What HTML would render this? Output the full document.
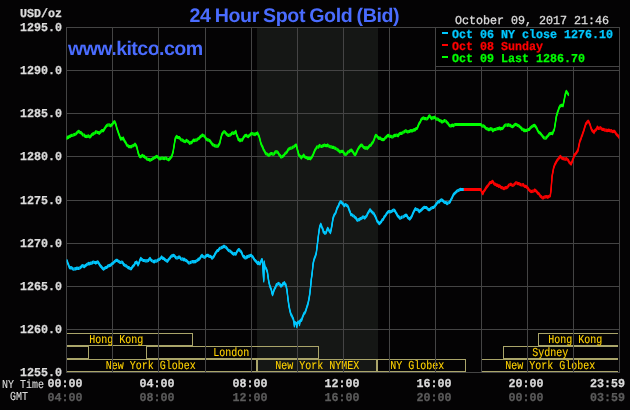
<!DOCTYPE html>
<html><head><meta charset="utf-8"><title>24 Hour Spot Gold (Bid)</title>
<style>html,body{margin:0;padding:0;background:#040304;overflow:hidden}svg{display:block;will-change:transform;text-rendering:geometricPrecision}</style>
</head><body>
<svg width="630" height="410" viewBox="0 0 630 410">
<rect width="630" height="410" fill="#040304"/>
<defs><filter id="idf" x="0" y="0" width="630" height="410" filterUnits="userSpaceOnUse"><feOffset dx="0" dy="0"/></filter></defs>
<g filter="url(#idf)">
<rect x="257" y="27" width="121" height="346" fill="#151715"/>
<path d="M66.5 333.5H192.5V345.5H66.5ZM66.5 346.5H88.5V358.5H66.5ZM146.5 346.5H318.5V358.5H146.5ZM66.5 359.5H256.5V371.5H66.5ZM257.5 359.5H376.5V371.5H257.5ZM377.5 359.5H465.5V371.5H377.5ZM618 359.5H481.5V371.5H618M618 346.5H503.5V358.5H618M618 333.5H538.5V345.5H618" fill="none" stroke="#aaa56a" stroke-width="1" shape-rendering="crispEdges"/>
<text x="89.2" y="343" font-family="Liberation Mono, monospace" font-weight="normal" font-size="12.15" fill="#ffd200" stroke="#ffd200" stroke-width="0.12" textLength="54" lengthAdjust="spacingAndGlyphs" xml:space="preserve">Hong Kong</text>
<text x="213.2" y="356" font-family="Liberation Mono, monospace" font-weight="normal" font-size="12.15" fill="#ffd200" stroke="#ffd200" stroke-width="0.12" textLength="36" lengthAdjust="spacingAndGlyphs" xml:space="preserve">London</text>
<text x="105.7" y="369" font-family="Liberation Mono, monospace" font-weight="normal" font-size="12.15" fill="#ffd200" stroke="#ffd200" stroke-width="0.12" textLength="90" lengthAdjust="spacingAndGlyphs" xml:space="preserve">New York Globex</text>
<text x="275.2" y="369" font-family="Liberation Mono, monospace" font-weight="normal" font-size="12.15" fill="#ffd200" stroke="#ffd200" stroke-width="0.12" textLength="84" lengthAdjust="spacingAndGlyphs" xml:space="preserve">New York NYMEX</text>
<text x="390.2" y="369" font-family="Liberation Mono, monospace" font-weight="normal" font-size="12.15" fill="#ffd200" stroke="#ffd200" stroke-width="0.12" textLength="54" lengthAdjust="spacingAndGlyphs" xml:space="preserve">NY Globex</text>
<text x="505.2" y="369" font-family="Liberation Mono, monospace" font-weight="normal" font-size="12.15" fill="#ffd200" stroke="#ffd200" stroke-width="0.12" textLength="90" lengthAdjust="spacingAndGlyphs" xml:space="preserve">New York Globex</text>
<text x="532.2" y="356" font-family="Liberation Mono, monospace" font-weight="normal" font-size="12.15" fill="#ffd200" stroke="#ffd200" stroke-width="0.12" textLength="36" lengthAdjust="spacingAndGlyphs" xml:space="preserve">Sydney</text>
<text x="548.2" y="343" font-family="Liberation Mono, monospace" font-weight="normal" font-size="12.15" fill="#ffd200" stroke="#ffd200" stroke-width="0.12" textLength="54" lengthAdjust="spacingAndGlyphs" xml:space="preserve">Hong Kong</text>
<text x="68" y="55" font-family="Liberation Sans, sans-serif" font-weight="bold" font-size="19.6" letter-spacing="-0.57" fill="#4a6cff">www.kitco.com</text>
<path d="M66.5 27V373M112.5 27V373M158.5 27V373M205.5 27V373M251.5 27V373M297.5 27V373M343.5 27V373M389.5 27V373M435.5 27V373M481.5 27V373M527.5 27V373M573.5 27V373M619.5 27V373M66 27.5H620M66 70.5H620M66 113.5H620M66 156.5H620M66 200.5H620M66 243.5H620M66 286.5H620M66 329.5H620M66 372.5H620" stroke="#444444" stroke-width="1" fill="none" shape-rendering="crispEdges"/>
<g fill="none" stroke="#00c8ff" stroke-width="1.2" stroke-linejoin="round" stroke-linecap="butt"><path id="p00c8ff" d="M67.0 260.3 L68.0 263.8 L68.3 264.2 L69.3 267.1 L70.0 268.0 L71.0 267.6 L72.0 268.0 L72.5 268.7 L73.5 269.1 L74.5 269.0 L75.0 268.7 L76.0 268.8 L77.0 268.1 L77.5 268.3 L78.5 268.3 L79.7 268.0 L80.7 267.2 L81.7 266.3 L82.0 265.8 L83.0 265.7 L84.2 266.7 L85.2 265.8 L86.3 265.0 L87.3 264.1 L88.3 263.9 L88.7 263.3 L89.7 263.9 L90.8 263.0 L91.8 263.2 L92.8 262.3 L93.3 262.0 L94.3 262.3 L95.3 262.5 L95.8 263.0 L96.8 262.2 L97.8 261.9 L98.3 262.5 L99.3 264.1 L100.3 265.8 L101.3 266.7 L102.5 268.3 L103.7 269.2 L104.7 268.2 L105.8 267.5 L106.8 267.4 L107.8 266.2 L108.3 265.8 L109.3 265.7 L110.3 265.1 L110.8 265.3 L111.8 263.7 L113.0 263.3 L114.0 262.1 L115.0 261.3 L116.0 260.3 L117.0 260.3 L118.0 261.0 L119.2 261.7 L120.2 262.5 L121.2 262.2 L121.7 262.0 L122.7 262.6 L123.7 264.7 L124.2 264.7 L125.2 265.6 L126.3 265.8 L127.3 266.9 L128.3 267.8 L128.7 267.5 L129.7 268.3 L130.7 268.8 L131.3 268.7 L132.3 267.0 L133.3 265.8 L134.3 264.8 L135.3 262.5 L136.3 262.8 L136.7 262.0 L137.7 263.8 L138.0 265.0 L139.0 262.9 L139.7 260.8 L140.8 258.3 L141.8 259.6 L143.0 260.3 L144.0 260.5 L145.0 260.8 L145.3 260.8 L146.3 260.8 L147.5 260.8 L148.5 260.4 L149.5 258.8 L150.0 258.3 L151.0 260.0 L152.0 260.8 L153.0 261.2 L154.2 262.0 L155.0 260.8 L156.0 261.2 L157.0 261.0 L157.5 260.3 L158.5 259.7 L159.7 259.2 L160.7 258.2 L161.7 257.0 L162.7 258.3 L163.7 258.3 L164.7 259.6 L165.8 260.3 L166.8 260.9 L167.5 261.3 L168.5 259.6 L169.7 258.3 L170.7 256.8 L171.7 255.8 L172.7 255.8 L173.3 255.3 L174.3 255.7 L175.3 257.0 L176.3 258.0 L177.5 258.0 L178.5 257.2 L179.7 257.0 L180.7 258.7 L181.7 259.2 L182.7 258.9 L183.7 259.8 L184.2 259.2 L185.2 260.1 L186.2 260.5 L186.7 260.8 L187.7 261.9 L188.7 263.0 L189.7 262.8 L190.7 262.4 L191.3 262.0 L192.3 261.7 L193.3 261.6 L193.7 262.0 L194.7 261.6 L195.7 261.7 L196.3 260.8 L197.3 260.5 L198.3 259.2 L198.7 259.7 L199.7 258.7 L200.8 256.7 L202.0 255.3 L203.0 256.6 L203.7 257.0 L204.7 257.3 L205.8 256.3 L206.8 255.4 L208.0 255.3 L209.0 256.2 L210.0 256.3 L211.0 256.7 L212.0 258.3 L213.0 257.4 L214.2 255.8 L215.2 253.7 L216.3 252.0 L217.3 250.6 L218.3 250.5 L218.7 249.7 L219.7 248.3 L220.8 248.0 L221.8 247.4 L222.8 247.2 L223.3 246.3 L224.3 246.3 L225.3 247.0 L226.3 247.6 L227.5 249.2 L228.5 250.5 L229.7 250.8 L230.7 251.6 L231.7 252.5 L232.7 253.6 L233.7 254.2 L234.7 253.5 L235.8 254.2 L236.8 252.0 L237.5 250.8 L238.5 249.7 L239.2 249.7 L240.2 250.9 L240.8 251.3 L241.8 252.9 L242.5 255.0 L243.5 256.8 L244.5 256.7 L245.0 258.0 L246.0 257.9 L247.0 256.5 L247.5 257.0 L248.5 256.1 L249.5 256.2 L250.0 255.5 L251.0 255.3 L251.9 256.1 L252.9 257.0 L253.8 258.7 L254.8 260.1 L255.7 261.0 L256.7 262.1 L257.6 263.5 L258.6 262.5 L259.1 263.7 L260.1 263.8 L260.8 261.8 L261.8 259.5 L262.3 259.7 L263.1 270.1 L263.7 280.9 L264.2 261.8 L265.0 267.6 L266.0 268.2 L267.0 270.8 L267.4 272.0 L268.4 279.3 L268.9 282.2 L269.9 286.3 L270.4 287.4 L271.4 289.9 L271.8 292.5 L272.6 294.7 L273.7 291.0 L274.7 288.5 L275.5 287.4 L276.5 284.5 L277.2 284.4 L278.4 283.4 L279.4 284.0 L279.9 284.4 L280.9 286.1 L281.3 285.9 L282.3 285.0 L282.8 283.7 L283.8 283.9 L284.3 282.5 L285.3 284.5 L285.7 284.4 L286.9 289.6 L287.9 298.3 L288.9 305.6 L290.1 311.5 L291.1 314.9 L291.6 315.1 L292.6 317.7 L293.0 318.1 L293.4 319.5 L294.0 322.0 L294.4 326.0 L294.9 322.5 L295.7 323.2 L296.4 323.6 L296.8 326.6 L297.3 323.0 L298.3 322.2 L299.2 321.8 L299.5 324.6 L300.0 321.2 L301.0 320.0 L301.5 320.3 L302.5 317.2 L303.0 315.9 L304.0 313.5 L304.7 313.0 L305.7 310.9 L306.2 309.3 L307.2 305.8 L307.7 304.9 L308.8 299.8 L309.8 293.9 L310.6 286.6 L311.3 279.3 L312.3 272.0 L313.1 263.7 L314.1 259.3 L315.4 256.1 L316.3 253.0 L317.5 243.3 L318.7 233.3 L319.7 226.7 L320.8 224.2 L322.0 227.5 L323.0 229.6 L323.3 231.7 L324.3 232.5 L325.0 233.3 L326.0 232.8 L326.7 230.8 L327.7 228.3 L328.0 228.7 L329.2 230.8 L330.2 232.2 L330.5 232.5 L331.7 226.7 L332.7 220.3 L333.0 218.3 L334.2 215.0 L335.2 213.5 L335.8 212.5 L336.8 209.0 L337.5 207.5 L338.5 205.8 L339.2 203.7 L340.2 202.1 L340.8 201.7 L341.8 202.8 L342.5 203.3 L343.5 204.7 L344.2 205.8 L345.2 204.5 L345.8 204.7 L346.8 205.4 L347.5 205.8 L348.5 207.8 L349.2 210.0 L350.2 212.2 L350.8 214.7 L351.8 214.6 L353.0 215.8 L354.0 216.2 L355.0 217.5 L356.0 218.1 L357.0 220.0 L357.5 220.3 L358.5 219.7 L359.5 219.7 L360.0 218.7 L361.0 218.6 L362.0 218.0 L362.5 217.0 L363.5 217.1 L364.7 218.0 L365.7 216.8 L366.7 215.8 L367.7 213.5 L368.3 212.5 L369.3 210.9 L370.0 209.7 L371.0 211.0 L371.7 211.7 L372.7 212.9 L373.7 213.3 L374.7 215.4 L375.3 216.3 L376.3 218.7 L377.0 220.8 L378.0 222.0 L379.2 223.7 L380.2 222.8 L381.3 221.7 L382.3 219.7 L383.3 219.2 L384.3 216.8 L385.3 215.8 L386.3 214.2 L387.5 212.5 L388.5 211.6 L389.7 211.7 L390.7 211.8 L391.7 211.3 L392.7 210.6 L393.7 210.0 L394.2 210.3 L395.2 211.2 L395.8 212.5 L396.8 214.1 L397.5 215.8 L398.5 216.4 L399.5 217.9 L400.0 218.3 L401.0 217.8 L402.0 217.0 L402.5 217.0 L403.5 216.7 L404.7 215.8 L405.7 215.2 L406.7 215.3 L407.7 217.4 L408.7 218.3 L409.7 219.0 L410.3 218.3 L411.3 217.2 L412.0 215.8 L413.0 213.2 L413.7 211.7 L414.7 209.9 L415.3 208.7 L416.3 209.2 L417.5 209.7 L418.5 210.2 L419.2 211.7 L420.2 210.8 L421.3 210.0 L422.3 209.0 L423.3 208.0 L424.3 207.3 L425.3 207.5 L426.3 207.5 L427.5 208.7 L428.5 209.6 L429.7 209.7 L430.7 208.6 L431.7 208.0 L432.7 207.5 L433.7 207.5 L434.2 206.7 L435.2 205.7 L436.3 204.2 L437.3 202.6 L438.3 201.7 L439.3 201.8 L440.3 200.4 L440.8 200.3 L441.8 199.9 L443.0 200.8 L444.0 201.9 L445.0 202.5 L446.0 202.5 L447.0 203.7 L448.0 202.9 L449.2 202.5 L450.2 201.5 L450.8 200.0 L451.8 198.2 L452.5 196.7 L453.5 194.5 L454.7 193.3 L455.7 192.3 L456.7 191.3 L457.7 190.7 L458.7 190.2 L459.2 190.0 L460.2 189.4 L461.3 189.5 L462.3 189.5 L463.3 189.5 L464.0 189.5"/><use href="#p00c8ff" y="-1"/><use href="#p00c8ff" y="1"/></g>
<g fill="none" stroke="#ff0000" stroke-width="1.2" stroke-linejoin="round" stroke-linecap="butt"><path id="pff0000" d="M463.7 189.5 L464.7 189.5 L465.7 189.5 L466.7 189.5 L467.7 189.5 L468.7 189.5 L469.7 189.5 L470.7 189.5 L471.7 189.5 L472.7 189.5 L473.7 189.5 L474.7 189.5 L475.7 189.5 L476.7 189.5 L477.7 189.5 L478.7 189.5 L479.7 189.5 L480.8 189.5 L481.7 191.7 L482.8 193.7 L483.8 191.2 L484.2 190.8 L485.2 189.4 L486.2 187.6 L486.7 187.0 L487.7 185.8 L488.7 184.5 L489.2 183.7 L490.2 182.5 L491.3 182.5 L492.3 181.3 L493.0 181.7 L494.0 183.6 L494.7 184.2 L495.7 184.4 L496.7 185.3 L497.7 185.2 L498.7 186.4 L499.2 185.8 L500.2 186.5 L501.2 187.6 L501.7 187.5 L502.7 187.9 L503.7 188.6 L504.2 188.7 L505.2 187.7 L506.2 187.9 L506.7 187.5 L507.7 186.9 L508.7 185.3 L509.7 184.8 L510.8 184.2 L511.8 185.0 L513.0 185.3 L514.0 184.7 L515.0 183.7 L516.0 182.7 L517.0 183.0 L518.0 183.7 L519.2 183.7 L520.2 184.4 L521.3 185.0 L522.3 184.9 L523.3 184.6 L523.7 185.3 L524.7 186.3 L525.8 186.3 L526.8 187.2 L528.0 188.3 L529.0 189.9 L530.0 190.8 L531.0 191.6 L532.0 191.3 L533.0 191.1 L534.0 190.9 L534.7 190.0 L535.7 190.7 L536.7 191.7 L537.7 193.1 L538.7 193.6 L539.2 194.2 L540.2 195.9 L541.3 196.7 L542.3 197.9 L543.3 198.0 L544.3 197.0 L545.3 196.7 L545.8 197.0 L546.8 196.5 L547.8 197.4 L548.3 196.7 L549.3 196.2 L550.3 195.8 L551.2 188.3 L552.0 176.7 L553.0 171.3 L553.6 168.0 L554.6 165.1 L555.0 164.3 L556.0 162.4 L556.9 160.7 L557.9 159.3 L558.6 158.6 L559.6 157.1 L560.3 156.4 L561.3 157.5 L562.1 158.3 L563.1 158.7 L564.3 158.9 L565.3 159.3 L566.4 158.6 L567.4 159.7 L568.3 160.3 L569.3 162.4 L570.0 162.9 L571.1 164.0 L572.1 161.7 L572.6 160.0 L573.6 157.8 L574.3 155.0 L575.3 154.2 L576.4 152.9 L577.4 150.9 L577.9 150.7 L578.9 145.7 L580.0 140.7 L581.0 138.7 L581.4 137.1 L582.4 134.8 L582.9 132.9 L583.9 130.4 L584.3 128.6 L585.3 125.5 L585.7 124.0 L586.7 123.0 L587.1 122.1 L588.1 121.2 L588.6 121.4 L589.6 123.9 L590.0 124.3 L591.1 128.3 L592.1 130.4 L592.6 131.1 L593.6 131.8 L594.0 132.6 L595.0 130.5 L595.7 130.0 L596.7 128.8 L597.4 127.1 L598.4 128.4 L599.3 128.3 L600.3 127.7 L601.1 128.3 L602.1 129.3 L602.9 129.3 L603.9 129.6 L605.0 130.3 L606.0 130.0 L607.1 130.7 L608.1 130.2 L609.3 130.3 L610.3 130.9 L611.4 130.7 L612.4 131.6 L613.6 131.4 L614.6 131.4 L615.4 132.6 L616.4 134.1 L617.1 135.0 L618.1 135.8 L618.9 137.4"/><use href="#pff0000" y="-1"/><use href="#pff0000" y="1"/></g>
<g fill="none" stroke="#00ff00" stroke-width="1.2" stroke-linejoin="round" stroke-linecap="butt"><path id="p00ff00" d="M66.7 138.7 L67.7 137.2 L68.7 137.3 L69.2 136.3 L70.2 136.4 L71.2 135.3 L71.7 135.5 L72.7 135.2 L73.7 134.8 L74.2 134.7 L75.2 134.2 L76.2 133.7 L76.7 133.0 L77.7 131.9 L78.7 131.3 L79.2 131.7 L80.2 132.6 L80.8 132.5 L81.8 133.4 L82.8 134.9 L83.3 135.0 L84.3 135.1 L85.0 136.3 L86.0 136.3 L87.0 136.6 L87.5 136.3 L88.5 135.9 L89.5 136.9 L90.5 136.7 L90.8 136.2 L91.8 134.7 L92.8 133.9 L93.3 134.2 L94.3 133.2 L95.3 132.8 L95.8 131.7 L96.8 132.0 L97.5 132.5 L98.5 132.6 L99.2 133.3 L100.2 132.2 L100.8 131.7 L101.8 130.7 L102.8 130.6 L103.3 130.8 L104.3 129.1 L105.3 127.5 L105.8 126.7 L106.8 125.6 L107.8 125.0 L108.3 125.0 L109.3 124.9 L110.3 125.6 L110.8 125.8 L111.8 124.5 L112.5 124.2 L113.5 122.3 L114.7 121.7 L115.8 124.2 L116.8 128.1 L117.5 130.0 L118.5 133.1 L119.2 135.0 L120.2 137.7 L120.8 139.2 L121.8 138.3 L122.8 138.9 L123.3 138.0 L124.3 140.7 L125.0 141.7 L126.0 143.1 L126.7 145.0 L127.7 145.4 L128.7 146.6 L129.2 146.7 L130.2 146.7 L131.2 146.8 L132.2 145.8 L132.5 145.8 L133.5 145.6 L134.5 144.7 L135.0 144.2 L136.0 145.4 L136.7 146.7 L137.7 150.8 L138.3 153.3 L139.3 155.9 L140.0 156.7 L141.0 156.6 L142.0 155.6 L142.5 155.3 L143.5 156.3 L144.5 156.4 L145.0 157.5 L146.0 157.8 L147.0 159.2 L147.5 159.2 L148.5 159.5 L149.5 159.6 L150.0 160.3 L151.0 159.7 L152.0 159.3 L152.5 158.7 L153.5 158.4 L154.5 157.6 L155.0 157.5 L156.0 156.8 L157.0 156.3 L158.0 157.4 L159.2 158.7 L160.2 158.8 L161.2 158.2 L161.7 158.0 L162.7 158.1 L163.7 158.5 L164.2 158.7 L165.2 158.1 L166.2 158.2 L166.7 158.8 L167.7 159.3 L168.7 159.8 L169.2 159.2 L170.2 158.3 L171.2 157.0 L171.7 156.7 L172.7 153.1 L173.0 152.5 L174.2 145.0 L175.3 138.3 L176.3 136.8 L176.7 136.3 L177.7 137.5 L178.7 137.6 L179.2 137.5 L180.2 138.6 L181.2 140.0 L181.7 140.0 L182.7 140.2 L183.7 141.1 L184.2 141.3 L185.2 141.6 L186.2 140.6 L186.7 140.3 L187.7 141.3 L188.7 142.0 L189.7 143.3 L190.7 142.7 L191.7 142.6 L192.5 141.3 L193.5 140.1 L194.5 140.7 L195.0 140.0 L196.0 140.1 L197.0 139.9 L197.5 139.2 L198.5 138.6 L199.5 137.9 L200.0 137.0 L201.0 136.2 L202.0 135.5 L202.5 135.0 L203.5 135.7 L204.5 136.0 L205.0 137.0 L206.0 138.7 L207.0 139.5 L207.5 140.0 L208.5 139.9 L209.5 140.7 L210.0 140.8 L211.0 142.3 L212.0 143.7 L212.5 144.7 L213.5 144.9 L214.5 145.7 L215.0 145.8 L216.0 146.1 L217.0 146.2 L218.0 146.2 L219.0 144.4 L219.7 143.3 L220.8 138.3 L221.8 134.7 L222.5 133.3 L223.5 132.0 L224.2 131.7 L225.2 132.2 L226.2 133.8 L226.7 134.2 L227.7 135.1 L228.7 135.5 L229.2 135.3 L230.2 134.9 L231.2 134.2 L231.7 133.3 L232.7 132.9 L233.7 133.5 L234.2 133.0 L235.2 132.2 L235.8 131.3 L236.7 135.0 L237.7 137.2 L238.3 139.7 L239.3 139.7 L240.0 140.8 L241.0 139.7 L242.0 140.3 L242.5 139.7 L243.5 137.5 L244.2 136.7 L245.2 135.5 L246.3 135.3 L247.3 136.2 L248.3 136.7 L249.3 135.4 L250.0 135.0 L251.0 133.9 L252.0 133.5 L252.5 133.7 L253.5 134.1 L254.5 134.0 L255.0 134.7 L256.0 133.7 L257.0 133.6 L257.5 133.0 L258.5 135.1 L259.2 136.7 L260.2 140.4 L260.8 143.3 L261.8 145.6 L262.8 147.3 L263.3 149.2 L264.3 150.8 L265.3 152.7 L265.8 153.7 L266.8 153.9 L267.8 154.5 L268.3 155.3 L269.3 155.2 L270.3 154.0 L270.8 153.7 L271.8 153.5 L272.8 154.2 L273.3 154.2 L274.3 153.7 L275.3 151.8 L275.8 152.0 L276.8 151.7 L277.8 152.3 L278.3 153.0 L279.3 154.9 L280.3 155.7 L280.8 157.0 L281.8 156.8 L282.8 156.3 L283.3 155.8 L284.3 154.8 L285.3 153.2 L285.8 153.0 L286.8 152.1 L287.8 150.4 L288.3 149.2 L289.3 148.9 L290.3 148.1 L290.8 148.3 L291.8 148.0 L292.8 147.1 L293.3 147.0 L294.3 146.4 L295.3 145.4 L296.3 145.0 L297.5 150.0 L298.5 153.7 L299.2 155.8 L300.2 156.2 L301.3 158.0 L302.3 156.4 L303.3 156.1 L303.7 155.0 L304.7 156.7 L305.8 157.5 L306.8 157.6 L307.8 158.7 L308.3 158.3 L309.3 158.1 L310.3 158.9 L310.8 158.3 L311.8 157.1 L313.0 155.0 L314.0 152.4 L315.0 150.0 L316.0 148.5 L317.0 146.9 L317.5 147.0 L318.5 147.1 L319.5 145.4 L320.0 145.8 L321.0 146.3 L322.0 146.5 L322.5 145.8 L323.5 145.7 L324.5 145.0 L325.0 145.3 L326.0 145.7 L327.0 145.7 L327.5 145.0 L328.5 146.0 L329.5 146.3 L330.0 146.7 L331.0 146.8 L332.0 147.1 L332.5 147.5 L333.5 147.3 L334.5 148.1 L335.0 148.0 L336.0 148.7 L337.0 149.2 L337.5 150.0 L338.5 150.2 L339.5 151.8 L340.0 152.0 L341.0 151.4 L342.0 151.5 L342.5 151.3 L343.5 152.2 L344.5 154.1 L345.0 154.2 L346.0 154.3 L347.0 153.3 L348.0 151.9 L349.2 151.7 L350.2 150.5 L351.3 150.0 L352.3 151.0 L353.3 152.5 L354.3 154.3 L355.3 154.7 L356.3 152.9 L357.5 150.0 L358.5 148.2 L359.7 146.7 L360.7 145.4 L361.7 145.0 L362.7 146.2 L363.7 147.5 L364.2 147.5 L365.2 148.3 L366.2 147.6 L367.2 148.5 L367.5 148.0 L368.5 147.2 L369.5 145.8 L370.0 145.3 L371.0 145.1 L372.0 143.1 L372.5 143.0 L373.5 141.0 L374.2 139.2 L375.2 136.3 L375.8 135.3 L376.8 135.9 L378.0 137.5 L379.0 138.5 L380.0 137.9 L380.8 138.7 L381.8 139.4 L382.8 139.6 L383.3 139.7 L384.3 139.3 L385.3 137.7 L385.8 137.5 L386.8 136.4 L387.8 135.5 L388.3 135.3 L389.3 136.2 L390.3 136.3 L390.8 136.3 L391.8 137.0 L392.8 136.9 L393.3 136.3 L394.3 135.4 L395.3 135.6 L395.8 135.3 L396.8 135.0 L398.0 135.8 L399.0 134.3 L400.0 133.5 L400.8 133.3 L401.8 133.3 L402.8 132.7 L403.3 132.0 L404.3 131.9 L405.3 130.8 L406.3 131.1 L407.5 132.0 L408.5 131.7 L409.5 131.5 L410.0 130.8 L411.0 130.7 L412.0 130.9 L412.5 130.8 L413.5 130.1 L414.5 129.6 L415.0 130.0 L416.0 128.7 L417.0 128.5 L417.5 127.5 L418.5 125.1 L419.2 123.3 L420.2 122.0 L421.3 119.2 L422.3 118.6 L423.3 117.9 L423.7 118.0 L424.7 118.7 L425.8 118.7 L426.8 119.0 L427.8 118.3 L428.8 116.3 L429.7 115.8 L430.7 117.5 L431.7 118.7 L432.7 117.7 L433.3 118.0 L434.3 117.2 L435.0 117.5 L436.0 118.9 L437.0 119.2 L438.0 119.1 L439.2 120.3 L440.0 120.8 L441.0 120.8 L442.0 122.2 L442.5 121.7 L443.5 121.2 L444.5 120.5 L445.0 120.8 L446.0 121.2 L447.0 122.5 L448.0 123.4 L449.2 125.3 L450.2 125.9 L451.3 125.8 L452.3 125.0 L453.3 125.8 L454.2 125.0 L455.2 124.5 L455.8 124.5 L456.8 124.5 L457.8 124.5 L458.8 124.5 L459.8 124.5 L460.8 124.5 L461.8 124.5 L462.8 124.5 L463.8 124.5 L464.8 124.5 L465.8 124.5 L466.8 124.5 L467.8 124.5 L468.8 124.5 L469.8 124.5 L470.8 124.5 L471.8 124.5 L472.8 124.5 L473.8 124.5 L474.8 124.5 L475.8 124.5 L476.8 124.5 L477.8 124.5 L478.8 124.5 L479.8 124.5 L480.8 124.5 L481.8 125.7 L482.8 126.1 L483.3 125.8 L484.3 126.5 L485.3 127.5 L485.8 128.3 L486.8 128.8 L487.8 128.8 L488.3 129.7 L489.3 129.7 L490.3 128.6 L490.8 129.2 L491.8 128.9 L492.8 130.8 L493.3 130.3 L494.3 129.6 L495.3 129.5 L495.8 129.2 L496.8 128.9 L497.8 128.5 L498.3 128.7 L499.3 127.9 L500.3 129.0 L500.8 128.3 L501.8 128.7 L502.8 128.3 L503.3 127.5 L504.3 126.0 L505.3 125.1 L505.8 125.0 L506.8 125.0 L507.8 125.4 L508.3 124.7 L509.3 125.1 L510.3 125.3 L511.3 126.2 L512.5 126.7 L513.5 126.0 L514.7 124.7 L515.7 124.3 L516.7 124.7 L517.7 125.4 L518.7 125.7 L519.2 126.3 L520.2 127.1 L521.2 128.0 L521.7 129.2 L522.7 129.2 L523.7 130.5 L524.2 130.0 L525.0 130.8 L526.0 130.4 L527.0 130.4 L527.5 130.0 L528.5 129.5 L529.5 129.3 L530.0 128.3 L531.0 127.4 L532.0 126.5 L532.5 126.3 L533.5 125.6 L534.7 125.3 L535.7 126.6 L536.7 128.3 L537.7 130.5 L538.7 132.2 L539.2 132.5 L540.2 133.2 L541.2 134.3 L541.7 135.0 L542.7 136.3 L543.7 137.5 L544.2 138.0 L545.2 138.1 L546.3 138.0 L547.3 136.3 L548.3 135.3 L549.3 133.8 L550.3 133.7 L551.3 133.3 L552.5 133.7 L553.5 130.9 L554.2 130.0 L555.3 123.3 L556.3 116.7 L557.5 112.5 L558.5 109.6 L559.2 107.5 L560.2 105.9 L560.8 105.8 L561.8 105.2 L563.0 105.8 L564.2 100.0 L565.3 94.2 L566.3 91.3 L567.5 93.0 L568.7 95.0"/><use href="#p00ff00" y="-1"/><use href="#p00ff00" y="1"/></g>
<rect x="435.5" y="27.5" width="184" height="39" fill="#000" stroke="#444444" shape-rendering="crispEdges"/>
<text x="455" y="24" font-family="Liberation Mono, monospace" font-weight="normal" font-size="12.15" fill="#dcdcdc" stroke="#dcdcdc" stroke-width="0.3" textLength="154" lengthAdjust="spacingAndGlyphs" xml:space="preserve">October 09, 2017 21:46</text>
<rect x="442" y="32" width="6" height="2" fill="#00c8ff"/>
<text x="452" y="38" font-family="Liberation Mono, monospace" font-weight="bold" font-size="12.15" fill="#00c8ff" stroke="#00c8ff" stroke-width="0.25" textLength="161" lengthAdjust="spacingAndGlyphs" xml:space="preserve">Oct 06 NY close 1276.10</text>
<rect x="442" y="44" width="6" height="2" fill="#ff0000"/>
<text x="452" y="50" font-family="Liberation Mono, monospace" font-weight="bold" font-size="12.15" fill="#ff0000" stroke="#ff0000" stroke-width="0.25" textLength="91" lengthAdjust="spacingAndGlyphs" xml:space="preserve">Oct 08 Sunday</text>
<rect x="442" y="56" width="6" height="2" fill="#00ff00"/>
<text x="452" y="62" font-family="Liberation Mono, monospace" font-weight="bold" font-size="12.15" fill="#00ff00" stroke="#00ff00" stroke-width="0.25" textLength="133" lengthAdjust="spacingAndGlyphs" xml:space="preserve">Oct 09 Last 1286.70</text>
<text x="189.5" y="22" font-family="Liberation Sans, sans-serif" font-weight="bold" font-size="19.6" letter-spacing="-0.4" word-spacing="-0.8" fill="#4a6cff">24 Hour Spot Gold (Bid)</text>
<text x="20" y="17" font-family="Liberation Mono, monospace" font-weight="bold" font-size="12.15" fill="#dcdcdc" stroke="#dcdcdc" stroke-width="0.25" textLength="42" lengthAdjust="spacingAndGlyphs" xml:space="preserve">USD/oz</text>
<text x="20" y="31" font-family="Liberation Mono, monospace" font-weight="bold" font-size="12.15" fill="#dcdcdc" stroke="#dcdcdc" stroke-width="0.25" textLength="42" lengthAdjust="spacingAndGlyphs" xml:space="preserve">1295.0</text>
<text x="20" y="74" font-family="Liberation Mono, monospace" font-weight="bold" font-size="12.15" fill="#dcdcdc" stroke="#dcdcdc" stroke-width="0.25" textLength="42" lengthAdjust="spacingAndGlyphs" xml:space="preserve">1290.0</text>
<text x="20" y="117" font-family="Liberation Mono, monospace" font-weight="bold" font-size="12.15" fill="#dcdcdc" stroke="#dcdcdc" stroke-width="0.25" textLength="42" lengthAdjust="spacingAndGlyphs" xml:space="preserve">1285.0</text>
<text x="20" y="160" font-family="Liberation Mono, monospace" font-weight="bold" font-size="12.15" fill="#dcdcdc" stroke="#dcdcdc" stroke-width="0.25" textLength="42" lengthAdjust="spacingAndGlyphs" xml:space="preserve">1280.0</text>
<text x="20" y="204" font-family="Liberation Mono, monospace" font-weight="bold" font-size="12.15" fill="#dcdcdc" stroke="#dcdcdc" stroke-width="0.25" textLength="42" lengthAdjust="spacingAndGlyphs" xml:space="preserve">1275.0</text>
<text x="20" y="247" font-family="Liberation Mono, monospace" font-weight="bold" font-size="12.15" fill="#dcdcdc" stroke="#dcdcdc" stroke-width="0.25" textLength="42" lengthAdjust="spacingAndGlyphs" xml:space="preserve">1270.0</text>
<text x="20" y="290" font-family="Liberation Mono, monospace" font-weight="bold" font-size="12.15" fill="#dcdcdc" stroke="#dcdcdc" stroke-width="0.25" textLength="42" lengthAdjust="spacingAndGlyphs" xml:space="preserve">1265.0</text>
<text x="20" y="333" font-family="Liberation Mono, monospace" font-weight="bold" font-size="12.15" fill="#dcdcdc" stroke="#dcdcdc" stroke-width="0.25" textLength="42" lengthAdjust="spacingAndGlyphs" xml:space="preserve">1260.0</text>
<text x="20" y="376" font-family="Liberation Mono, monospace" font-weight="bold" font-size="12.15" fill="#dcdcdc" stroke="#dcdcdc" stroke-width="0.25" textLength="42" lengthAdjust="spacingAndGlyphs" xml:space="preserve">1255.0</text>
<text x="2" y="388" font-family="Liberation Mono, monospace" font-weight="normal" font-size="12.15" fill="#dcdcdc" stroke="#dcdcdc" stroke-width="0.12" textLength="42" lengthAdjust="spacingAndGlyphs" xml:space="preserve">NY Time</text>
<text x="10" y="400" font-family="Liberation Mono, monospace" font-weight="normal" font-size="12.15" fill="#dcdcdc" stroke="#dcdcdc" stroke-width="0.12" textLength="18" lengthAdjust="spacingAndGlyphs" xml:space="preserve">GMT</text>
<text x="47.5" y="387" font-family="Liberation Mono, monospace" font-weight="bold" font-size="12.15" fill="#dcdcdc" stroke="#dcdcdc" stroke-width="0.25" textLength="35" lengthAdjust="spacingAndGlyphs" xml:space="preserve">00:00</text>
<text x="47.5" y="401" font-family="Liberation Mono, monospace" font-weight="bold" font-size="12.15" fill="#5c5c5c" stroke="#5c5c5c" stroke-width="0.25" textLength="35" lengthAdjust="spacingAndGlyphs" xml:space="preserve">04:00</text>
<text x="139.5" y="387" font-family="Liberation Mono, monospace" font-weight="bold" font-size="12.15" fill="#dcdcdc" stroke="#dcdcdc" stroke-width="0.25" textLength="35" lengthAdjust="spacingAndGlyphs" xml:space="preserve">04:00</text>
<text x="139.5" y="401" font-family="Liberation Mono, monospace" font-weight="bold" font-size="12.15" fill="#5c5c5c" stroke="#5c5c5c" stroke-width="0.25" textLength="35" lengthAdjust="spacingAndGlyphs" xml:space="preserve">08:00</text>
<text x="232.5" y="387" font-family="Liberation Mono, monospace" font-weight="bold" font-size="12.15" fill="#dcdcdc" stroke="#dcdcdc" stroke-width="0.25" textLength="35" lengthAdjust="spacingAndGlyphs" xml:space="preserve">08:00</text>
<text x="232.5" y="401" font-family="Liberation Mono, monospace" font-weight="bold" font-size="12.15" fill="#5c5c5c" stroke="#5c5c5c" stroke-width="0.25" textLength="35" lengthAdjust="spacingAndGlyphs" xml:space="preserve">12:00</text>
<text x="324.5" y="387" font-family="Liberation Mono, monospace" font-weight="bold" font-size="12.15" fill="#dcdcdc" stroke="#dcdcdc" stroke-width="0.25" textLength="35" lengthAdjust="spacingAndGlyphs" xml:space="preserve">12:00</text>
<text x="324.5" y="401" font-family="Liberation Mono, monospace" font-weight="bold" font-size="12.15" fill="#5c5c5c" stroke="#5c5c5c" stroke-width="0.25" textLength="35" lengthAdjust="spacingAndGlyphs" xml:space="preserve">16:00</text>
<text x="416.5" y="387" font-family="Liberation Mono, monospace" font-weight="bold" font-size="12.15" fill="#dcdcdc" stroke="#dcdcdc" stroke-width="0.25" textLength="35" lengthAdjust="spacingAndGlyphs" xml:space="preserve">16:00</text>
<text x="416.5" y="401" font-family="Liberation Mono, monospace" font-weight="bold" font-size="12.15" fill="#5c5c5c" stroke="#5c5c5c" stroke-width="0.25" textLength="35" lengthAdjust="spacingAndGlyphs" xml:space="preserve">20:00</text>
<text x="508.5" y="387" font-family="Liberation Mono, monospace" font-weight="bold" font-size="12.15" fill="#dcdcdc" stroke="#dcdcdc" stroke-width="0.25" textLength="35" lengthAdjust="spacingAndGlyphs" xml:space="preserve">20:00</text>
<text x="508.5" y="401" font-family="Liberation Mono, monospace" font-weight="bold" font-size="12.15" fill="#5c5c5c" stroke="#5c5c5c" stroke-width="0.25" textLength="35" lengthAdjust="spacingAndGlyphs" xml:space="preserve">00:00</text>
<text x="590" y="387" font-family="Liberation Mono, monospace" font-weight="bold" font-size="12.15" fill="#dcdcdc" stroke="#dcdcdc" stroke-width="0.25" textLength="35" lengthAdjust="spacingAndGlyphs" xml:space="preserve">23:59</text>
<text x="590" y="401" font-family="Liberation Mono, monospace" font-weight="bold" font-size="12.15" fill="#5c5c5c" stroke="#5c5c5c" stroke-width="0.25" textLength="35" lengthAdjust="spacingAndGlyphs" xml:space="preserve">03:59</text>
</g>
</svg>
</body></html>
